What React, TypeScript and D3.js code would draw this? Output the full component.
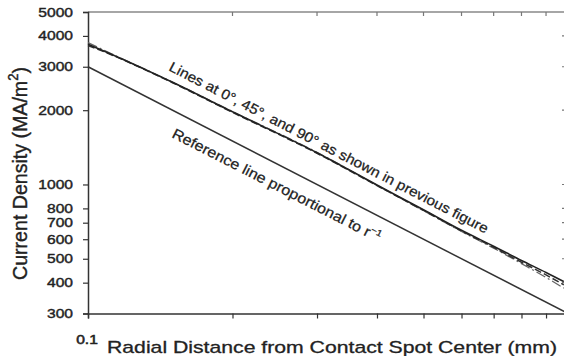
import React, { Component } from 'react'
import * as d3 from 'd3'

// radial distance (mm) where the curves were read
const radius = [0.1, 0.11, 0.15, 0.2, 0.3, 0.4, 0.5, 0.6, 0.7, 0.8, 0.9, 0.98]
// current density (MA/m^2) along the three directions
const line0deg = [3700, 3420, 2595, 1970, 1345, 995, 790, 652, 562, 492, 440, 404]
const line45deg = [3660, 3400, 2585, 1960, 1338, 990, 785, 648, 556, 484, 430, 392]
const line90deg = [3760, 3440, 2600, 1975, 1350, 992, 783, 645, 552, 478, 420, 380]
// reference line ~ 1/r
const refRadius = [0.1, 1.0]
const refLine = [3000, 300]

const yTicks = [300, 400, 500, 600, 700, 800, 1000, 2000, 3000, 4000, 5000]
const xTicks = [0.1, 0.2, 0.3, 0.4, 0.5, 0.6, 0.7, 0.8, 0.9, 1.0]
const xTickLabels = ['0.1']

class App extends Component {
  node: SVGSVGElement | null = null

  componentDidMount() {
    this.createChart()
  }
  componentDidUpdate() {
    this.createChart()
  }

  createChart() {
    const width = 564,
      height = 356,
      left = 88,
      right = 568,
      top = 12,
      bottom = 313.5
    const stretch = 1.25
    const font = 'Liberation Sans, Arial, sans-serif'

    const x = d3.scaleLog().domain([0.1, 1.0]).range([left, right])
    const y = d3.scaleLog().domain([300, 5000]).range([bottom, top])

    const svg = d3.select(this.node)
    svg.selectAll('*').remove()
    svg.attr('width', width).attr('height', height)

    // frame: top and right edges (right mostly out of view)
    svg.append('line')
      .attr('x1', left).attr('x2', right).attr('y1', top).attr('y2', top)
      .attr('stroke', '#888').attr('stroke-width', 1.5)
    svg.append('line')
      .attr('x1', right).attr('x2', right).attr('y1', top).attr('y2', bottom)
      .attr('stroke', '#888').attr('stroke-width', 1.5)

    // inward ticks on top and right
    svg.append('g').selectAll('line')
      .data(xTicks.slice(1))
      .enter().append('line')
      .attr('x1', d => x(d)).attr('x2', d => x(d))
      .attr('y1', top).attr('y2', top + 4)
      .attr('stroke', '#777').attr('stroke-width', 1.2)
    svg.append('g').selectAll('line')
      .data(yTicks.slice(1, -1))
      .enter().append('line')
      .attr('x1', right).attr('x2', right - 6)
      .attr('y1', d => y(d)).attr('y2', d => y(d))
      .attr('stroke', '#777').attr('stroke-width', 1.2)

    // left axis
    const yAxis = d3.axisLeft(y).tickValues(yTicks).tickSize(5).tickFormat(() => '')
    const gy = svg.append('g').attr('transform', 'translate(' + left + ',0)').call(yAxis)
    gy.select('.domain').attr('stroke', '#333').attr('stroke-width', 1.5)
    gy.selectAll('.tick line').attr('stroke', '#333').attr('stroke-width', 1.2)

    // bottom axis
    const xAxis = d3.axisBottom(x).tickValues(xTicks).tickSize(5).tickFormat(() => '')
    const gx = svg.append('g').attr('transform', 'translate(0,' + bottom + ')').call(xAxis)
    gx.select('.domain').attr('stroke', '#333').attr('stroke-width', 1.5)
    gx.selectAll('.tick line').attr('stroke', '#333').attr('stroke-width', 1.2)

    // y tick labels (the scan is stretched sideways)
    svg.append('g').selectAll('text')
      .data(yTicks)
      .enter().append('text')
      .attr('transform', d => 'translate(73,' + (y(d) + 4.5) + ') scale(' + stretch + ',1)')
      .attr('text-anchor', 'end')
      .attr('font-family', font).attr('font-size', 12.5)
      .attr('fill', '#222').attr('stroke', '#222').attr('stroke-width', 0.4)
      .text(d => d)

    svg.append('g').selectAll('text')
      .data(xTickLabels)
      .enter().append('text')
      .attr('transform', d => 'translate(' + (x(+d) - 1) + ',344) scale(' + stretch + ',1)')
      .attr('text-anchor', 'middle')
      .attr('font-family', font).attr('font-size', 12.5)
      .attr('fill', '#222').attr('stroke', '#222').attr('stroke-width', 0.5)
      .text(d => d)

    // axis titles
    svg.append('text')
      .attr('x', 107).attr('y', 353)
      .attr('textLength', 450).attr('lengthAdjust', 'spacingAndGlyphs')
      .attr('font-family', font).attr('font-size', 17)
      .attr('fill', '#222').attr('stroke', '#222').attr('stroke-width', 0.3)
      .text('Radial Distance from Contact Spot Center (mm)')

    const ylab = svg.append('text')
      .attr('transform', 'translate(27,280) scale(' + stretch + ',1) rotate(-90)')
      .attr('textLength', 213).attr('lengthAdjust', 'spacingAndGlyphs')
      .attr('font-family', font).attr('font-size', 16.5)
      .attr('fill', '#222').attr('stroke', '#222').attr('stroke-width', 0.3)
    ylab.append('tspan').text('Current Density (MA/m')
    ylab.append('tspan').attr('font-size', 11).attr('dy', -7).text('2')
    ylab.append('tspan').attr('dy', 7).text(')')

    // curves
    const line = d3.line<[number, number]>()
      .x(d => x(d[0]))
      .y(d => y(d[1]))
      .curve(d3.curveMonotoneX)

    const series = [
      { values: line90deg, dash: '10,3,2,3', color: '#666', w: 1.3 },
      { values: line45deg, dash: '7,3', color: '#333', w: 1.5 },
      { values: line0deg, dash: null, color: '#222', w: 1.6 },
    ]
    series.forEach(s => {
      svg.append('path')
        .datum(radius.map((r, i) => [r, s.values[i]] as [number, number]))
        .attr('d', line)
        .attr('fill', 'none')
        .attr('stroke', s.color)
        .attr('stroke-width', s.w)
        .attr('stroke-dasharray', s.dash)
    })

    svg.append('path')
      .datum(refRadius.map((r, i) => [r, refLine[i]] as [number, number]))
      .attr('d', line)
      .attr('fill', 'none')
      .attr('stroke', '#333')
      .attr('stroke-width', 1.5)

    // annotations along the lines
    svg.append('text')
      .attr('transform', 'translate(168,70) rotate(27.3)')
      .attr('textLength', 357).attr('lengthAdjust', 'spacingAndGlyphs')
      .attr('font-family', font).attr('font-size', 14)
      .attr('fill', '#222').attr('stroke', '#222').attr('stroke-width', 0.25)
      .text('Lines at 0°, 45°, and 90° as shown in previous figure')

    const ref = svg.append('text')
      .attr('transform', 'translate(171,137) rotate(27)')
      .attr('textLength', 232).attr('lengthAdjust', 'spacingAndGlyphs')
      .attr('font-family', font).attr('font-size', 14.5)
      .attr('fill', '#222').attr('stroke', '#222').attr('stroke-width', 0.25)
    ref.append('tspan').text('Reference line proportional to r')
    ref.append('tspan').attr('font-size', 9).attr('dy', -6).text('−1')
  }

  render() {
    return (
      <div style={{ position: 'absolute', left: 0, top: 0 }}>
        <svg ref={node => { this.node = node }} style={{ display: 'block' }} />
      </div>
    )
  }
}

export default App
